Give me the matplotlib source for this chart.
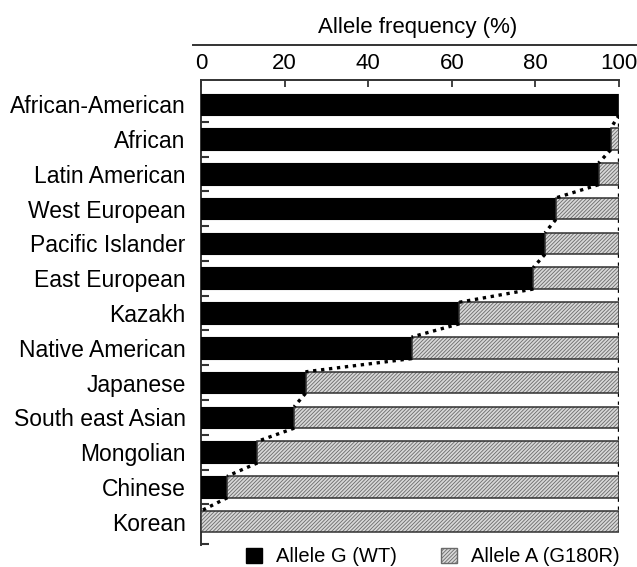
import matplotlib
matplotlib.use("Agg")
import matplotlib.pyplot as plt
from matplotlib.patches import Patch
from matplotlib.lines import Line2D
import numpy as np

plt.rcParams['font.family'] = ['Liberation Sans', 'DejaVu Sans']
plt.rcParams['hatch.linewidth'] = 0.6

populations = ["African-American", "African", "Latin American", "West European",
               "Pacific Islander", "East European", "Kazakh", "Native American",
               "Japanese", "South east Asian", "Mongolian", "Chinese", "Korean"]
allele_g = [100, 98.0, 95.1, 84.9, 82.3, 79.5, 61.8, 50.4, 25.0, 22.3, 13.5, 6.3, 0]
allele_a = [100 - g for g in allele_g]
x_ticks = [0, 20, 40, 60, 80, 100]
x_label = "Allele frequency (%)"
legend_labels = ["Allele G (WT)", "Allele A (G180R)"]

W, H = 637, 567
fig = plt.figure(figsize=(W / 100, H / 100), dpi=100)
ax = fig.add_axes([201 / W, 1 - 545 / H, (619 - 201) / W, (545 - 80) / H])

n = len(populations)
y = np.arange(n)
bh = 0.62
hatch = '/' * 9

ax.barh(y, allele_g, height=bh, color='black', edgecolor='black', linewidth=0.8, zorder=3)
ax.barh(y, allele_a, left=allele_g, height=bh, color='#d8d8d8', edgecolor='#6a6a6a',
        hatch=hatch, linewidth=0, zorder=3)
ax.barh(y, allele_a, left=allele_g, height=bh, color='none', edgecolor='#303030',
        linewidth=1.1, zorder=4)

# dotted connectors between adjacent bar ends
for i in range(n - 1):
    ax.plot([allele_g[i], allele_g[i + 1]], [y[i] + bh / 2, y[i + 1] - bh / 2],
            color='black', linestyle=(0, (1, 1.4)), linewidth=2.4, zorder=5)
    ax.plot([100, 100], [y[i] + bh / 2, y[i + 1] - bh / 2],
            color='black', linestyle=(0, (1, 1.4)), linewidth=2.4, zorder=5)

ax.set_xlim(0, 100)
ax.set_ylim(n - 1 + 0.67, -0.70)

ax.xaxis.tick_top()
ax.set_xticks(x_ticks)
ax.tick_params(axis='x', direction='in', length=5, width=1.3, color='#333333',
               labelsize=16, pad=4)
ax.set_yticks(y)
ax.set_yticklabels(populations, fontsize=16.5)
ax.tick_params(axis='y', which='major', length=0, pad=11)
ax.set_yticks(list(y[:-1] + 0.5) + [n - 1 + 0.63], minor=True)
ax.tick_params(axis='y', which='minor', direction='in', length=6, width=1.5, color='#333333')

for s in ['right', 'bottom']:
    ax.spines[s].set_visible(False)
for s in ['top', 'left']:
    ax.spines[s].set_linewidth(1.4)
    ax.spines[s].set_color('#333333')

# decorative line above tick labels and axis title
fig.add_artist(Line2D([193 / W, 1.0], [1 - 45 / H, 1 - 45 / H], color='#333333', linewidth=1.4))
fig.text(418 / W, 1 - 27 / H, x_label, ha='center', va='center', fontsize=16)

handles = [Patch(facecolor='black', edgecolor='black'),
           Patch(facecolor='#d8d8d8', edgecolor='#6a6a6a', hatch=hatch)]
fig.legend(handles, legend_labels, loc='center', bbox_to_anchor=(433 / W, 1 - 557 / H),
           ncol=2, frameon=False, fontsize=14.5, handlelength=0.8, handleheight=0.8,
           handletextpad=0.7, columnspacing=2.2, borderpad=0)

fig.savefig("out.png", dpi=100, facecolor='white')
